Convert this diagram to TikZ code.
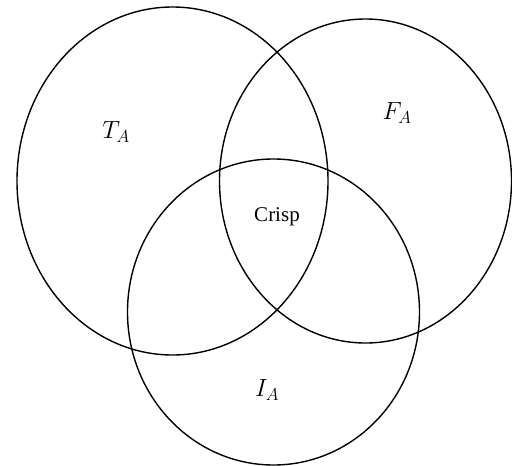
\documentclass[tikz,border=0pt]{standalone}
\usepackage{fontspec}
\setmainfont{Liberation Serif}
\begin{document}
\begin{tikzpicture}[x=1pt,y=-1pt,
  setline/.style={draw=black,line width=1.4pt},
  lbl/.style={font=\fontsize{25}{28}\selectfont},
  crisplbl/.style={font=\fontsize{21}{24}\selectfont}]
\useasboundingbox (0,0) rectangle (512,466);
\draw[setline] (172.5,181) ellipse [x radius=155.5, y radius=174];
\draw[setline] (365.5,181) ellipse [x radius=146, y radius=162];
\draw[setline] (273.5,312) ellipse [x radius=146, y radius=153];
\node[lbl] (t) at (116,132) {$T_A$};
\node[lbl] (f) at (397,113) {$F_A$};
\node[crisplbl] (c) at (277,217) {Crisp};
\node[lbl] (i) at (267,390) {$I_A$};
\end{tikzpicture}
\end{document}
